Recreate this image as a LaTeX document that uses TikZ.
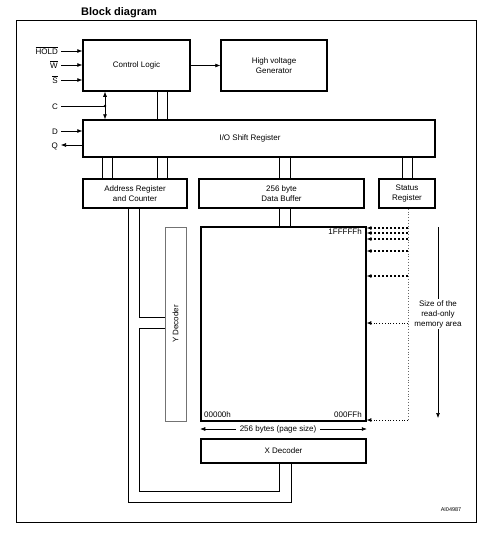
\documentclass[tikz,border=0pt]{standalone}
\usepackage{fontspec}
\setmainfont{Liberation Sans}
\usetikzlibrary{arrows.meta,calc}
\begin{document}
\begin{tikzpicture}[x=1pt,y=-1pt,
  box/.style={draw,line width=1.5pt,align=center,font=\fontsize{8}{10}\selectfont,inner sep=0pt},
  ybox/.style={draw=black!55,line width=0.8pt,inner sep=0pt},
  wire/.style={line width=0.6pt},
  tip/.style={-{Latex[length=5pt,width=4pt]}},
  arr/.style={wire,tip},
  dashline/.style={line width=1.1pt,dash pattern=on 2.5pt off 1.5pt,-{Latex[length=4.5pt,width=4pt]}},
  dotline/.style={line width=0.8pt,dotted,-{Latex[length=4.5pt,width=4pt]}},
  lbl/.style={font=\fontsize{8}{10}\selectfont,inner sep=1pt,align=center}]
\useasboundingbox (0,0) rectangle (489,538);
% frame and title
\node[draw,line width=0.7pt,minimum width=460pt,minimum height=502pt,inner sep=0pt] (frame) at (246,271) {};
\node[font=\bfseries\fontsize{11}{13}\selectfont,anchor=west,inner sep=0pt] (title) at (81,13) {Block diagram};
% blocks
\node[box,minimum width=107pt,minimum height=51pt] (cl) at (136.5,65.5) {Control Logic};
\node[box,minimum width=106pt,minimum height=51pt] (hv) at (274,65.5) {High voltage\\Generator};
\node[box,minimum width=352pt,minimum height=37pt] (io) at (259,138.5) {\hspace*{-18pt}I/O Shift Register};
\node[box,minimum width=104pt,minimum height=29pt] (ar) at (135,193.5) {Address Register\\and Counter};
\node[box,minimum width=165pt,minimum height=29pt] (db) at (281.5,193.5) {256 byte\\Data Buffer};
\node[box,minimum width=56pt,minimum height=29pt] (sr) at (407,193.5) {Status\\Register};
\node[box,minimum width=165pt,minimum height=194pt] (mem) at (283.5,324) {};
\node[ybox,minimum width=21pt,minimum height=194pt] (yd) at (175.5,324) {};
\node[lbl,rotate=90] (ydt) at (175.5,324) {Y Decoder};
\node[box,minimum width=165pt,minimum height=24pt] (xd) at (283.5,451) {X Decoder};
% input signals
\node[lbl,anchor=base east] (lhold) at (59,54) {$\overline{\mbox{HOLD}}$};
\node[lbl,anchor=base east] (lw) at (59,68) {$\overline{\mbox{W}}$};
\node[lbl,anchor=base east] (ls) at (59,83) {$\overline{\mbox{S}}$};
\node[lbl,anchor=base east] (lc) at (59,109) {C};
\node[lbl,anchor=base east] (ld) at (59,134) {D};
\node[lbl,anchor=base east] (lq) at (59,148) {Q};
\coordinate (ih) at (61,51);
\coordinate (iw) at (61,65);
\coordinate (is) at (61,80);
\coordinate (ic) at (61,106);
\coordinate (id) at (61,131);
\coordinate (iq) at (61,145);
\draw[arr] (ih) -- (ih -| cl.west);
\draw[arr] (iw) -- (iw -| cl.west);
\draw[arr] (is) -- (is -| cl.west);
\draw[arr] (id) -- (id -| io.west);
\draw[arr] (iq -| io.west) -- (iq);
\draw[arr] (cl.east) -- (hv.west);
% C and bidirectional link
\coordinate (cj) at (105,0);
\draw[wire] (ic) -- (ic -| cj);
\fill (ic -| cj) circle (1.3pt);
\draw[wire,{Latex[length=5pt,width=4pt]}-{Latex[length=5pt,width=4pt]}] (cj |- cl.south) -- (cj |- io.north);
% buses
\foreach \bx in {157,167} {
  \coordinate (bb) at (\bx,0);
  \draw[wire] (bb |- cl.south) -- (bb |- io.north);
}
\foreach \bx in {102,112,157,167} {
  \coordinate (bb) at (\bx,0);
  \draw[wire] (bb |- io.south) -- (bb |- ar.north);
}
\foreach \bx in {279,290} {
  \coordinate (bb) at (\bx,0);
  \draw[wire] (bb |- io.south) -- (bb |- db.north);
  \draw[wire] (bb |- db.south) -- (bb |- mem.north);
}
\foreach \bx in {402,412} {
  \coordinate (bb) at (\bx,0);
  \draw[wire] (bb |- io.south) -- (bb |- sr.north);
}
% address lines
\coordinate (a1) at (128,0);
\coordinate (a2) at (139,0);
\coordinate (ya) at (139,317);
\coordinate (yb) at (139,328);
\coordinate (xb) at (279,491);
\coordinate (xc) at (291,502);
\draw[wire] (a2 |- ar.south) -- (ya) -- (ya -| yd.west);
\draw[wire] (yb -| yd.west) -- (yb) -- (yb |- xb) -- (xb) -- (xb |- xd.south);
\draw[wire] (a1 |- ar.south) -- (a1 |- xc) -- (xc) -- (xc |- xd.south);
% memory labels
\node[lbl,anchor=east] (l1) at (363,232) {1FFFFFh};
\node[lbl,anchor=west] (l2) at (203,415) {00000h};
\node[lbl,anchor=east] (l3) at (363,415) {000FFh};
% page size
\node[lbl,inner sep=4pt] (pg) at (278,429) {256 bytes (page size)};
\draw[arr] (pg.west) -- (pg.west -| mem.west);
\draw[arr] (pg.east) -- (pg.east -| mem.east);
% status register dotted lines
\coordinate (dt) at (408,0);
\coordinate (dbot) at (408,420);
\draw[line width=0.8pt,dotted,black!60] (dt |- sr.south) -- (dbot);
\draw[dotline] (dbot) -- (dbot -| mem.east);
\foreach \yy in {228,233,239,251,276} {
  \coordinate (dd) at (408,\yy);
  \draw[dashline] (dd) -- (dd -| mem.east);
}
\coordinate (d6) at (408,323);
\draw[dotline] (d6) -- (d6 -| mem.east);
% size of read-only area
\node[lbl] (sz) at (438,314) {Size of the\\read-only\\memory area};
\coordinate (st) at (438,227);
\coordinate (sb) at (438,418);
\draw[wire] (st) -- (sz.north);
\draw[arr] (sz.south) -- (sb);
% figure id
\node[font=\fontsize{5.5}{6}\selectfont,inner sep=0pt] (ai) at (451,510) {AI04987};
\end{tikzpicture}
\end{document}
